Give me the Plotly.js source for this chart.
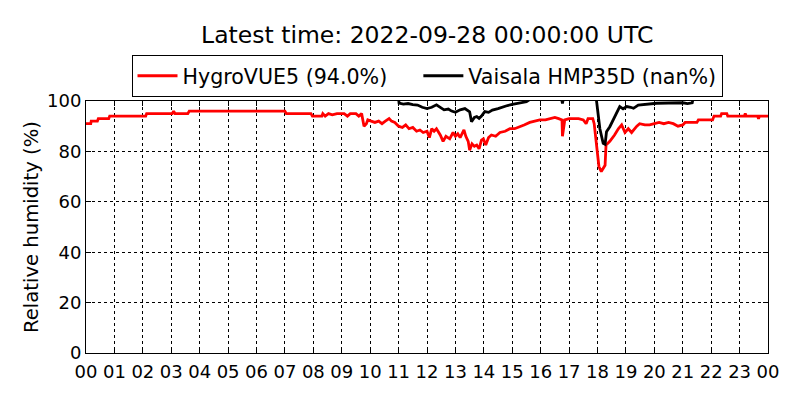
<!DOCTYPE html>
<html>
<head>
<meta charset="utf-8">
<script src="https://cdn.plot.ly/plotly-3.0.1.min.js"></script>
<style>
  html, body { margin: 0; padding: 0; background: #fff; }
  #rh-plot { width: 800px; height: 400px; }
</style>
</head>
<body>
<div id="rh-plot"></div>
<script>
// Data (HH:MM on 2022-09-27)
const day = '2022-09-27';
const titleText = 'Latest time: 2022-09-28 00:00:00 UTC';

const hygroTimes = [
  '00:00', '00:10', '00:11', '00:24', '00:26', '00:48', '00:50', '02:06', '02:08', '03:02',
  '03:05', '03:08', '03:35', '03:38', '07:00', '07:03', '07:55', '07:58', '08:18', '08:20',
  '08:25', '08:32', '08:40', '08:50', '09:05', '09:12', '09:18', '09:30', '09:36', '09:42',
  '09:44', '09:47', '09:52', '09:55', '10:02', '10:10', '10:18', '10:25', '10:32', '10:40',
  '10:45', '10:52', '11:00', '11:08', '11:15', '11:22', '11:30', '11:38', '11:45', '11:52',
  '12:00', '12:05', '12:10', '12:15', '12:20', '12:28', '12:34', '12:40', '12:48', '12:55',
  '13:00', '13:05', '13:10', '13:18', '13:22', '13:27', '13:30', '13:35', '13:40', '13:45',
  '13:50', '13:55', '13:59', '14:04', '14:10', '14:16', '14:25', '14:34', '14:45', '14:55',
  '15:05', '15:16', '15:25', '15:37', '15:50', '15:58', '16:10', '16:20', '16:30', '16:38',
  '16:45', '16:46', '16:48', '16:51', '17:00', '17:20', '17:30', '17:36', '17:40', '17:50',
  '17:53', '17:57', '18:00', '18:03', '18:08', '18:12', '18:16', '18:18', '18:26', '18:36',
  '18:44', '18:51', '18:58', '19:05', '19:12', '19:23', '19:29', '19:40', '19:50', '20:00',
  '20:10', '20:20', '20:30', '20:40', '20:50', '21:00', '21:05', '21:30', '21:33', '22:03',
  '22:06', '22:20', '22:22', '22:33', '22:35', '23:10', '23:12', '23:14', '23:38', '23:40',
  '23:42', '24:00'
];
const hygroValues = [
  91, 91, 92, 92, 93, 93, 94, 94, 95, 95,
  96, 95, 95, 96, 96, 95, 95, 94, 94, 95,
  94, 95, 94.5, 95, 95, 94, 95, 95, 94, 95,
  93, 90, 91, 92.5, 92, 91.5, 92, 91, 92, 93,
  92, 91.5, 90, 89.5, 90.5, 89, 89.5, 88, 88.5, 87.5,
  88, 85.5, 89, 88, 89, 86.5, 84, 86, 85, 87.5,
  86, 87, 85.5, 88.5, 86, 84, 80.5, 83, 82, 82.5,
  81, 84.5, 85, 82.5, 85.5, 86.5, 86, 87.5, 88, 89,
  89, 90, 90.5, 91.5, 92, 92.5, 92.5, 93, 93.5, 93,
  92.5, 86, 88, 92.5, 93, 93, 92.5, 91, 93, 93,
  91, 84, 78, 74, 72, 73.5, 74.5, 82.5, 84, 86.5,
  89, 90.5, 87.5, 89, 87.5, 90, 91, 90.5, 90.5, 91,
  91.5, 91, 91.5, 91, 90, 90.5, 91.5, 91.5, 92.5, 92.5,
  94, 94, 95, 95, 94, 94, 95, 94, 94, 93,
  94, 94
];

const vaisalaTimes = [
  '11:00', '11:01', '11:10', '11:20', '11:30', '11:40', '11:50', '12:00', '12:10', '12:20',
  '12:28', '12:36', '12:45', '12:52', '13:00', '13:10', '13:20', '13:25', '13:30', '13:34',
  '13:40', '13:45', '13:50', '13:55', '14:02', '14:10', '14:18', '14:30', '14:41', '14:50',
  '15:00', '15:15', '15:30', '15:40', '16:44', '16:46', '16:48', '17:56', '17:58', '18:05',
  '18:12', '18:16', '18:19', '18:26', '18:33', '18:40', '18:47', '18:54', '19:02', '19:10',
  '19:16', '19:26', '19:44', '20:05', '20:30', '21:00', '21:10', '21:20', '21:22'
];
const vaisalaValues = [
  101, 99.2, 98.8, 99, 98.6, 98.4, 97.5, 97, 97.5, 98.5,
  97.5, 96.5, 96.8, 96, 95.5, 96.5, 97, 96.5, 95.7, 91.8,
  93.5, 93.8, 93.1, 94, 95.8, 95.5, 96.4, 97, 97.8, 98.2,
  98.7, 99.2, 99.7, 101, 101, 99, 101, 101, 100, 89,
  83.2, 82.8, 87.8, 89.8, 92.5, 95.1, 97.8, 96.9, 97.8, 97.5,
  97.1, 98.4, 98.7, 99.1, 99.2, 99.3, 99, 99.3, 101
];

const hygroName = 'HygroVUE5 (94.0%)';
const vaisalaName = 'Vaisala HMP35D (nan%)';
const yTitle = 'Relative humidity (%)';


// Helpers
function toDate(hhmm) {
  if (hhmm === '24:00') return '2022-09-28 00:00';
  return `${day} ${hhmm}`;
}

function renderTrace(times, values, name, color) {
  return {
    name: name,
    mode: 'lines',
    x: times.map(toDate),
    y: values,
    line: {
      color: color,
      width: 2.8,
    },
    hoverinfo: 'skip',
  };
}


// Plotting
const family = 'DejaVu Sans, sans-serif';
const tickFont = { family: family, size: 18, color: 'black' };
const legendFont = { family: family, size: 20.6, color: 'black' };
const yTitleFont = { family: family, size: 19.6, color: 'black' };

const axisStyle = {
  showline: true,
  linecolor: 'black',
  linewidth: 1,
  mirror: 'allticks',
  ticks: 'inside',
  ticklen: 5,
  tickcolor: 'black',
  showgrid: true,
  gridcolor: 'black',
  gridwidth: 1,
  griddash: 'dot',
  zeroline: false,
  tickfont: tickFont,
};

const layout = {
  width: 800,
  height: 400,
  paper_bgcolor: 'white',
  plot_bgcolor: 'white',
  font: tickFont,
  margin: { l: 86, r: 32, t: 101, b: 47 },
  title: {
    text: titleText,
    font: { family: family, size: 23.5, color: 'black' },
    x: 0.534,
    xanchor: 'center',
    y: 0.912,
    yanchor: 'middle',
  },
  showlegend: true,
  legend: {
    orientation: 'h',
    x: 0.5,
    xanchor: 'center',
    y: 1.183,
    yanchor: 'top',
    bordercolor: 'black',
    borderwidth: 1,
    font: legendFont,
    itemwidth: 40,
  },
  xaxis: Object.assign({}, axisStyle, {
    type: 'date',
    range: ['2022-09-27 00:00', '2022-09-28 00:00'],
    tick0: '2022-09-27 00:00',
    dtick: 3600000,
    tickformat: '%H',
    ticklabelstandoff: 2,
  }),
  yaxis: Object.assign({}, axisStyle, {
    range: [0, 100],
    tick0: 0,
    dtick: 20,
    title: { text: yTitle, font: yTitleFont, standoff: 3 },
  }),
};

// trailing no-break spaces widen the gap between the two legend entries
const entryPad = '\u00A0'.repeat(4);

Plotly.newPlot('rh-plot', [
  renderTrace(hygroTimes, hygroValues, hygroName + entryPad, 'red'),
  renderTrace(vaisalaTimes, vaisalaValues, vaisalaName, 'black'),
], layout, { staticPlot: true });
</script>
</body>
</html>
